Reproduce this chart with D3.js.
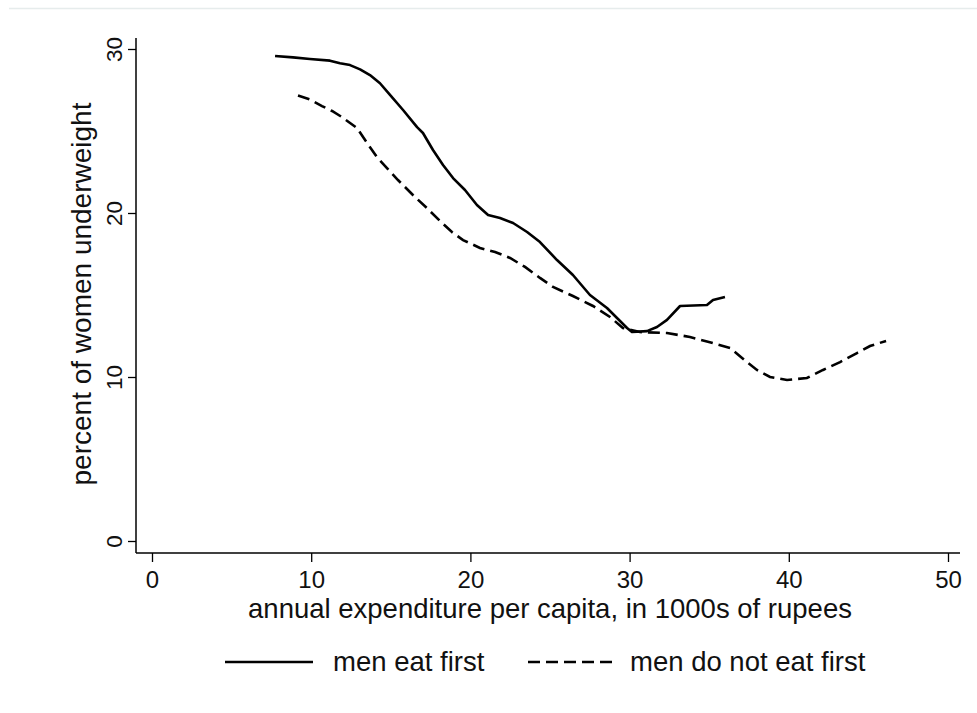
<!DOCTYPE html>
<html>
<head>
<meta charset="utf-8">
<script src="https://cdn.jsdelivr.net/npm/d3@7"></script>
<style>
  html, body { margin: 0; padding: 0; background: #fff; }
  svg { display: block; font-family: Arial, "Liberation Sans", sans-serif; }
</style>
</head>
<body>
<svg id="chart" width="977" height="713"></svg>
<script>
// Smoothed share of underweight women by household expenditure
const eatFirstX = [7.73, 8.86, 9.92, 11.18, 11.81, 12.44, 13.07, 13.69, 14.32, 14.95, 15.77, 16.65, 17.02, 17.65, 18.28, 18.91, 19.66, 20.41, 21.11, 21.86, 22.68, 23.56, 24.37, 25.44, 26.44, 27.51, 28.58, 29.84, 30.15, 31.09, 31.72, 32.35, 33.17, 34.86, 35.24, 35.99];
const eatFirstY = [29.57, 29.49, 29.39, 29.29, 29.13, 29.02, 28.76, 28.41, 27.91, 27.20, 26.28, 25.24, 24.88, 23.84, 22.93, 22.13, 21.40, 20.49, 19.88, 19.70, 19.39, 18.84, 18.23, 17.13, 16.22, 15.00, 14.21, 12.99, 12.74, 12.80, 13.05, 13.48, 14.33, 14.39, 14.70, 14.88];

const notFirstX = [9.17, 9.92, 10.68, 11.31, 11.93, 12.88, 13.51, 14.13, 14.76, 15.45, 16.39, 17.27, 18.09, 18.84, 19.54, 20.60, 21.55, 22.49, 23.43, 24.37, 25.19, 26.44, 27.70, 28.77, 29.58, 30.65, 32.35, 33.79, 35.24, 36.31, 37.37, 38.00, 38.82, 39.89, 41.14, 42.15, 43.22, 44.28, 45.10, 46.11];
const notFirstY = [27.16, 26.92, 26.52, 26.22, 25.85, 25.18, 24.27, 23.41, 22.74, 22.01, 21.10, 20.30, 19.51, 18.84, 18.35, 17.87, 17.62, 17.26, 16.71, 16.04, 15.49, 14.94, 14.33, 13.66, 12.99, 12.74, 12.68, 12.44, 12.07, 11.77, 10.91, 10.43, 10.00, 9.82, 9.94, 10.43, 10.91, 11.46, 11.89, 12.20];

const xTicks = [0, 10, 20, 30, 40, 50];
const yTicks = [0, 10, 20, 30];
const seriesNames = ["men eat first", "men do not eat first"];
const xTitle = "annual expenditure per capita, in 1000s of rupees";
const yTitle = "percent of women underweight";

const FONT = "Arial, 'Liberation Sans', sans-serif";
const svg = d3.select("#chart");

// thin frame line across the top of the page
svg.append("line")
  .attr("x1", 9).attr("x2", 977).attr("y1", 8.5).attr("y2", 8.5)
  .attr("stroke", "#e6ecec").attr("stroke-width", 1.5);

const x = d3.scaleLinear().domain([0, 50]).range([152, 948]);
const y = d3.scaleLinear().domain([0, 30]).range([541, 49]);

const axisLeftX = 136, axisBottomY = 553;

// y axis
const gy = svg.append("g").attr("transform", `translate(${axisLeftX},0)`)
  .call(d3.axisLeft(y).tickValues(yTicks).tickSize(8).tickPadding(6));
gy.select(".domain").attr("d", `M0,38V${axisBottomY}`).attr("stroke-width", 1.5);
gy.selectAll(".tick line").attr("stroke-width", 1.3);
gy.selectAll("text")
  .attr("font-size", 22.5).attr("font-family", FONT)
  .attr("fill", "#111")
  .attr("text-anchor", "middle")
  .attr("dy", null)
  .attr("x", null)
  .attr("transform", "translate(-22,0) rotate(-90)")
  .attr("dominant-baseline", "central");

// x axis
const gx = svg.append("g").attr("transform", `translate(0,${axisBottomY})`)
  .call(d3.axisBottom(x).tickValues(xTicks).tickSize(9).tickPadding(9));
gx.select(".domain").attr("d", `M${axisLeftX},0H960`).attr("stroke-width", 1.5);
gx.selectAll(".tick line").attr("stroke-width", 1.3);
gx.selectAll("text")
  .attr("font-size", 24).attr("font-family", FONT)
  .attr("fill", "#111");

// axis titles
svg.append("text")
  .attr("x", 550).attr("y", 618)
  .attr("text-anchor", "middle").attr("font-size", 27.5).attr("fill", "#111")
  .text(xTitle);
svg.append("text")
  .attr("transform", "translate(91,294) rotate(-90)")
  .attr("text-anchor", "middle").attr("font-size", 28).attr("fill", "#111")
  .text(yTitle);

const line = d3.line().x(d => x(d[0])).y(d => y(d[1]));
const eatFirst = eatFirstX.map((v, i) => [v, eatFirstY[i]]);
const notFirst = notFirstX.map((v, i) => [v, notFirstY[i]]);

svg.append("path").datum(eatFirst)
  .attr("d", line).attr("fill", "none").attr("stroke", "#000")
  .attr("stroke-width", 2.6).attr("stroke-linejoin", "round");
svg.append("path").datum(notFirst)
  .attr("d", line).attr("fill", "none").attr("stroke", "#000")
  .attr("stroke-width", 2.6).attr("stroke-dasharray", "12,6");

// legend
const legendY = 662;
svg.append("line").attr("x1", 225).attr("x2", 313).attr("y1", legendY).attr("y2", legendY)
  .attr("stroke", "#000").attr("stroke-width", 2.6);
svg.append("text").attr("x", 333).attr("y", legendY + 9)
  .attr("font-size", 27.5).attr("fill", "#111").text(seriesNames[0]);
svg.append("line").attr("x1", 528).attr("x2", 612).attr("y1", legendY).attr("y2", legendY)
  .attr("stroke", "#000").attr("stroke-width", 2.6).attr("stroke-dasharray", "12,6");
svg.append("text").attr("x", 630).attr("y", legendY + 9)
  .attr("font-size", 27.5).attr("fill", "#111").text(seriesNames[1]);
</script>
</body>
</html>
